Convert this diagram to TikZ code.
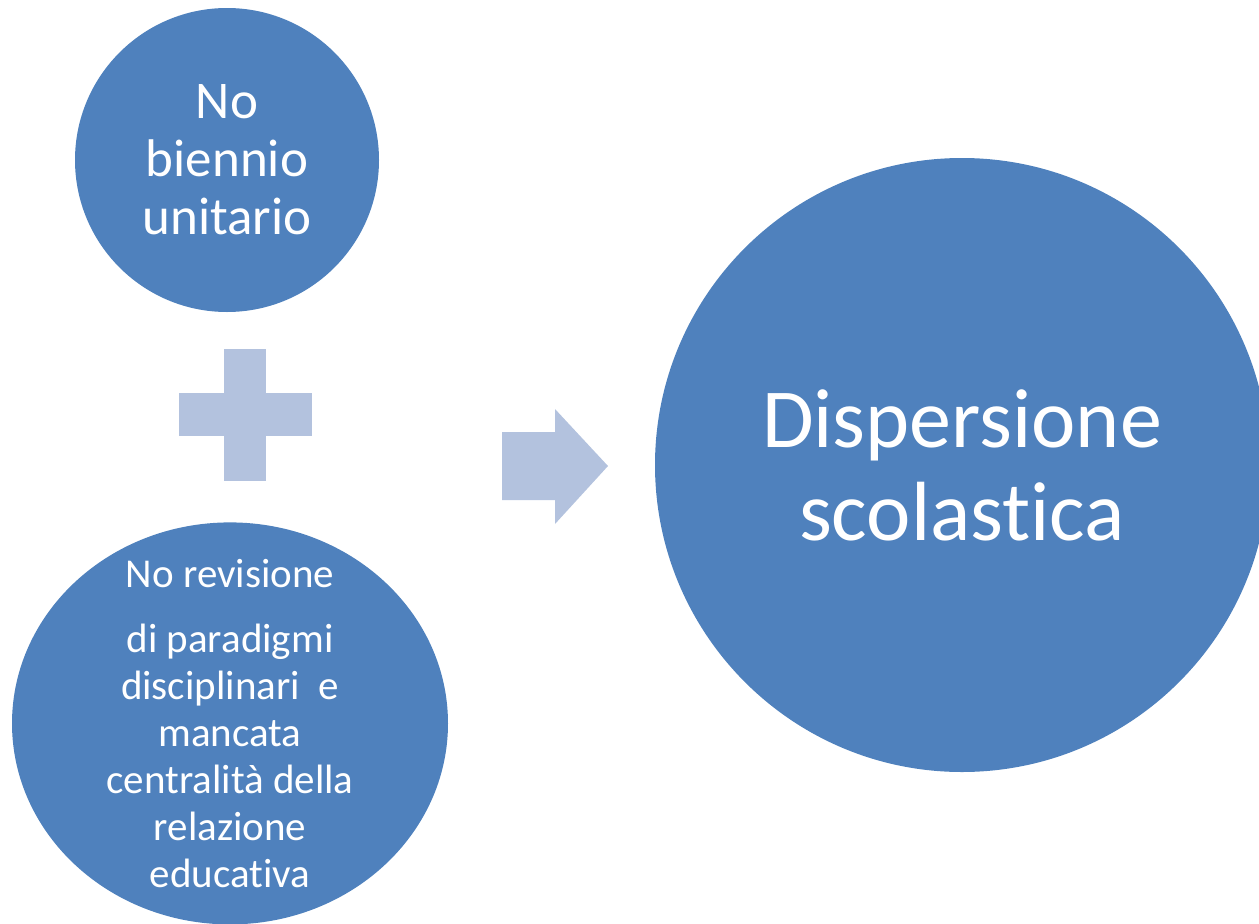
\documentclass[tikz,border=0pt]{standalone}
\usepackage{fontspec}
\setmainfont{Carlito}[Ligatures=NoCommon]
\usetikzlibrary{
  shapes.geometric,  % Shape "ellipse"
  positioning,       % Function "of" (e.g. [below=of x])
}
\definecolor{myblue}{RGB}{79,129,189}
\definecolor{mylight}{RGB}{179,194,222}
\tikzset{
  x=1pt,
  y=-1pt,
  my bubble/.style={
    fill=myblue,
    text=white,
    align=center,
    inner sep=0mm,
    draw=none
  },
  my cause/.style={
    my bubble,
    circle,
    minimum size=304pt,
    font=\fontsize{53}{58}\selectfont
  },
  my cause wide/.style={
    my bubble,
    ellipse,
    inner ysep=-40pt,
    minimum width=436pt,
    minimum height=402pt,
    font=\fontsize{41}{47}\selectfont
  },
  my effect/.style={
    my bubble,
    circle,
    minimum size=614pt,
    font=\fontsize{84}{93}\selectfont
  },
  my sign/.style={
    fill=mylight,
    draw=none
  }
}

\begin{document}
\begin{tikzpicture}
\useasboundingbox (0,0) rectangle (1259,924);
\clip (0,0) rectangle (1259,924);
\node[my cause]      (biennio) at (227,160)       {No\\biennio\\unitario};
\node[my cause wide] (revisione) [below=210pt of biennio,xshift=3pt]
  {No revisione\\[18pt]di paradigmi\\disciplinari\ \ e\\mancata\\centralità della\\relazione\\educativa};
\node[my effect]     (dispersione) at (962,465)   {Dispersione\\scolastica};
% plus sign
\fill[my sign] (224,349) rectangle (266,481);
\fill[my sign] (179,393) rectangle (312,436);
% block arrow
\fill[my sign] (502,432) -- (555,432) -- (555,409) -- (608,466)
               -- (555,524) -- (555,500) -- (502,500) -- cycle;
\end{tikzpicture}
\end{document}
